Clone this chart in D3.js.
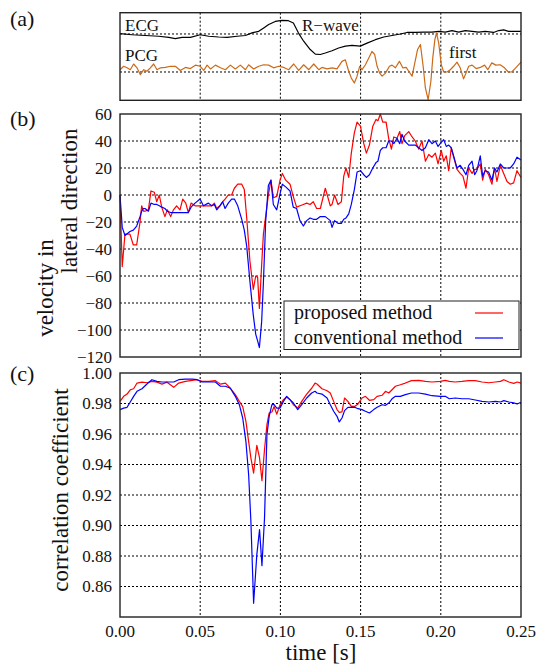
<!DOCTYPE html>
<html>
<head>
<meta charset="utf-8">
<script src="https://cdn.jsdelivr.net/npm/d3@7"></script>
<style>
body { margin: 0; background: #fff; }
svg text { font-family: "Liberation Serif", "DejaVu Serif", serif; fill: #111; }
</style>
</head>
<body>
<svg width="543" height="666"></svg>
<script>

// (a) ECG / PCG traces, arbitrary units around their own baselines
var ecgTime = [0, .0075, .0158, .0241, .0304, .0345, .0387, .0439, .05, .0553,
  .0615, .0667, .073, .0782, .0823, .0865, .0896, .0927, .0968, .101,
  .105, .1081, .1112, .1145, .1186, .1218, .1249, .128, .1322, .1363,
  .1405, .1446, .1498, .154, .1592, .1644, .1696, .1748, .179, .1841,
  .1893, .1945, .1987, .2028, .207, .2111, .2153, .2195, .2236, .2277,
  .2329, .2361, .2392, .2423, .2454, .25];
var ecgValue = [0.01, -0.02, -0.04, -0.06, -0.09, -0.12, -0.09, -0.09, -0.02, -0.06,
  -0.08, -0.09, -0.06, -0.04, 0.03, 0.07, 0.16, 0.25, 0.33, 0.36,
  0.35, 0.29, 0.03, -0.19, -0.41, -0.53, -0.54, -0.5, -0.44, -0.37,
  -0.32, -0.3, -0.32, -0.24, -0.15, -0.08, -0.04, 0, 0.04, 0.04,
  0.05, 0.05, 0.07, 0.05, 0.09, 0.05, 0.09, 0.07, 0.05, 0.07,
  0.04, 0.09, 0.11, 0.07, 0.07, 0.07];

var pcgTime = [0, .0023, .0044, .0064, .0085, .0106, .0127, .0148, .0168, .0189,
  .021, .0231, .0252, .0283, .0314, .0345, .0376, .0408, .0439, .047,
  .05, .0522, .0543, .0564, .0595, .0626, .0657, .0688, .0719, .075,
  .0782, .0802, .0833, .0865, .0896, .0927, .0958, .0989, .1021, .1052,
  .1083, .1114, .1145, .1177, .1208, .1239, .1259, .1291, .1322, .1353,
  .1384, .1405, .1426, .1442, .1461, .1478, .1494, .1509, .153, .1551,
  .1571, .1588, .1603, .1619, .1634, .1655, .168, .1696, .1717, .1742,
  .1763, .1784, .18, .1821, .1838, .1855, .1873, .189, .1904, .1921,
  .1938, .195, .1963, .1973, .1987, .2003, .2018, .2039, .2059, .208,
  .2101, .2121, .2142, .2157, .2174, .2195, .222, .2246, .2273, .2293,
  .2318, .2343, .237, .2397, .2421, .2442, .2467, .25];
var pcgValue = [0.06, 0.15, 0.11, 0.06, 0.21, 0.11, -0.07, 0.06, 0.02, 0.11,
  0.21, 0.06, 0.11, 0.12, 0.15, 0.15, 0.04, 0.12, 0.09, 0.18,
  0.15, 0.04, 0.18, 0.08, 0.18, 0.11, 0.06, 0.18, 0.08, 0.18,
  0.06, 0.19, 0.08, 0.15, 0.19, 0.18, 0.11, 0.15, 0.12, 0.06,
  0.21, 0.04, 0.19, 0.06, 0.21, 0.06, 0.12, 0.08, 0.11, 0.08,
  0.28, 0.32, 0.02, -0.16, -0.29, -0.11, 0.15, 0.06, 0.19, 0.37,
  0.54, 0.46, 0.15, -0.03, -0.11, -0.03, 0.15, 0.18, 0.11, 0.28,
  0.11, 0.12, 0.02, -0.11, 0.24, 0.59, 0.72, 0.15, -0.42, -0.73,
  -0.25, 0.37, 0.85, 1.03, 0.76, 0.19, 0, 0, 0.06, 0.15,
  0.26, 0.11, -0.18, -0.03, 0.15, 0.18, 0.09, 0.12, 0.18, 0.06,
  0.24, 0.18, 0.19, 0.11, 0, 0, 0.11, 0.26];

// (b) velocity in lateral direction
var velTime = [0, .0014, .0031, .0062, .0083, .0104, .0125, .0135, .0146, .0156,
  .0177, .0193, .0214, .0229, .0245, .026, .028, .0295, .0316, .0333,
  .0353, .0374, .0391, .041, .0426, .0443, .0468, .0499, .052, .0551,
  .0572, .0588, .0603, .0623, .064, .0655, .0675, .0696, .0713, .0734,
  .0759, .0775, .079, .081, .0831, .0846, .0858, .0869, .0883, .0894,
  .0908, .0925, .0941, .0956, .0977, .0998, .1012, .1033, .106, .108,
  .1101, .1122, .1143, .1164, .1185, .1205, .1226, .1249, .128, .1311,
  .1322, .1338, .1359, .138, .1395, .1409, .1426, .1442, .1461, .1478,
  .1499, .152, .1536, .1555, .1576, .1596, .1608, .1623, .1638, .1659,
  .1675, .1692, .1707, .1727, .1744, .1758, .1775, .18, .1821, .1841,
  .1862, .1883, .1904, .1925, .1945, .1966, .1983, .2003, .2018, .2034,
  .2049, .2065, .208, .2101, .2121, .2138, .2157, .2174, .2195, .2211,
  .2225, .2246, .2261, .2277, .2298, .2319, .2335, .235, .2371, .2392,
  .2413, .2433, .2454, .2475, .25];
var velProposed = [0, -53, -29, -29, -37, -37, -20, -8, -12, -12,
  -11, 3, 2, -5, 0, -9, -16, -11, -16, -11,
  -8, -11, -3, -6, -13, -6, -8, -8, -8, -8,
  -8, -6, -10, -8, -5, -3, 0, 0, 5, 8,
  8, 4, -17, -49, -70, -60, -61, -84, -52, -29,
  -16, 0, 11, -2, -1, 11, 16, 11, 8, -1,
  -9, -8, -7, -6, -7, -5, -10, -10, 5, -8,
  -7, 0, -7, -5, 14, 20, 13, 31, 46, 54,
  51, 38, 31, 37, 51, 56, 55, 60, 54, 54,
  42, 34, 43, 42, 47, 38, 44, 47, 43, 40,
  34, 40, 25, 30, 28, 31, 23, 33, 25, 29,
  18, 35, 28, 19, 16, 14, 5, 20, 16, 19,
  19, 23, 11, 19, 15, 8, 20, 10, 22, 16,
  10, 8, 9, 18, 13];
var velConventional = [0, -24, -30, -27, -26, -23, -16, -12, -10, -10,
  -12, -6, -7, -7, -8, -9, -10, -12, -13, -13,
  -13, -13, -13, -13, -13, -9, -6, -3, -8, -6,
  -8, -7, -11, -8, -5, -10, -6, -3, -3, -8,
  -18, -26, -38, -64, -89, -103, -108, -113, -94, -65,
  -20, 7, 11, -7, -11, 1, 8, 6, 3, -9,
  -10, -19, -23, -19, -17, -18, -18, -16, -16, -19,
  -24, -19, -21, -21, -18, -17, -14, -7, 4, 17,
  18, 15, 13, 15, 20, 24, 25, 33, 35, 35,
  40, 40, 38, 42, 38, 45, 40, 37, 37, 37,
  35, 33, 35, 41, 38, 40, 36, 39, 41, 36,
  37, 35, 29, 20, 22, 19, 15, 22, 25, 15,
  18, 29, 14, 18, 17, 11, 20, 17, 23, 20,
  20, 20, 23, 28, 26];

// (c) correlation coefficient
var corrTime = [0, .0023, .0044, .0064, .0085, .0106, .0137, .0168, .0199, .023,
  .0262, .0293, .0335, .0366, .0408, .045, .0481, .0512, .0553, .0595,
  .0626, .0657, .0688, .0719, .0744, .0765, .0785, .0802, .0816, .0833,
  .0853, .087, .0885, .0901, .0916, .093, .0947, .0961, .0977, .0998,
  .1019, .1039, .106, .1081, .1108, .1133, .1164, .1195, .1216, .1228,
  .1259, .1291, .1311, .1332, .1353, .1367, .1384, .14, .1421, .1442,
  .1463, .1484, .1509, .153, .1555, .1582, .1603, .1634, .1655, .1676,
  .1696, .1717, .1748, .1779, .1817, .1862, .1904, .1945, .1997, .2028,
  .2053, .209, .2132, .2174, .2215, .2257, .2299, .2341, .2372, .2393,
  .2424, .2455, .2476, .25];
var corrProposed = [.9814, .9847, .9862, .989, .9897, .9934, .994, .9936, .9945, .994,
  .9927, .994, .9906, .9934, .9945, .9952, .9956, .9945, .9945, .995,
  .9927, .9934, .99, .9858, .9814, .978, .9683, .955, .9443, .9344,
  .9526, .9443, .9294, .9498, .9661, .9738, .9744, .978, .973, .9792,
  .9825, .9843, .9825, .9792, .977, .9814, .9862, .99, .9934, .9928,
  .9897, .9884, .9869, .9814, .976, .9742, .9745, .9836, .9814, .9781,
  .9781, .9797, .9836, .9847, .9821, .9825, .9847, .9854, .988, .9869,
  .989, .9913, .9923, .9934, .995, .9952, .9945, .9941, .9945, .9952,
  .9945, .9941, .9945, .995, .995, .9941, .9936, .9941, .9945, .9956,
  .9941, .9932, .9941, .9934];
var corrConventional = [.976, .977, .9775, .981, .9847, .988, .9897, .9928, .9956, .9945,
  .9941, .9941, .9941, .9956, .996, .996, .9956, .9941, .9941, .9941,
  .9913, .9913, .99, .9847, .9792, .9705, .955, .9333, .9028, .849,
  .8809, .8973, .8737, .9049, .9594, .9716, .9792, .9792, .977, .977,
  .9814, .9847, .9825, .9803, .976, .9792, .9836, .9869, .988, .9869,
  .9862, .9836, .9792, .9749, .9716, .9679, .9705, .9753, .9775, .9775,
  .9775, .9766, .976, .9749, .9738, .976, .9775, .9792, .9788, .9803,
  .9831, .9847, .9847, .9858, .9869, .9869, .9862, .9851, .9847, .9847,
  .9831, .9836, .9831, .9831, .9823, .9814, .981, .9814, .981, .9819,
  .981, .9804, .9797, .9808];

var timeTicks = [0, 0.05, 0.10, 0.15, 0.20, 0.25];
var velTicks = [60, 40, 20, 0, -20, -40, -60, -80, -100, -120];
var corrTicks = [1.00, 0.98, 0.96, 0.94, 0.92, 0.90, 0.88, 0.86];
var seriesNames = ["proposed method", "conventional method"];
var seriesColors = ["#ff0000", "#0000ff"];

var svg = d3.select("svg");

var x = d3.scaleLinear().domain([0, 0.25]).range([120, 521]);
var yA = d3.scaleLinear().domain([-0.745, 1.56]).range([100.3, 12.7]);
var yB = d3.scaleLinear().domain([-120, 60]).range([357, 114]);
var yC = d3.scaleLinear().domain([0.84, 1.00]).range([617, 373]);

var ecgBase = 1, pcgBase = 0;

function vGrid(top, bottom) {
  svg.append("g").selectAll("line")
    .data(timeTicks.slice(1, -1))
    .enter().append("line")
      .attr("x1", function(d) { return x(d); })
      .attr("x2", function(d) { return x(d); })
      .attr("y1", top).attr("y2", bottom)
      .attr("stroke", "#000").attr("stroke-width", 1)
      .attr("stroke-dasharray", "2,2");
}
function hGrid(vals, y) {
  svg.append("g").selectAll("line")
    .data(vals)
    .enter().append("line")
      .attr("x1", x.range()[0]).attr("x2", x.range()[1])
      .attr("y1", function(d) { return y(d); })
      .attr("y2", function(d) { return y(d); })
      .attr("stroke", "#000").attr("stroke-width", 1)
      .attr("stroke-dasharray", "2,2");
}
function frame(y) {
  var r = y.range();
  svg.append("rect")
    .attr("x", x.range()[0]).attr("y", r[1])
    .attr("width", x.range()[1] - x.range()[0])
    .attr("height", r[0] - r[1])
    .attr("fill", "none").attr("stroke", "#222").attr("stroke-width", 1.4);
}
function trace(times, vals, y, offset, color) {
  var line = d3.line()
    .x(function(d, i) { return x(times[i]); })
    .y(function(d) { return y(d + offset); });
  svg.append("path")
    .datum(vals)
    .attr("d", line)
    .attr("fill", "none")
    .attr("stroke", color)
    .attr("stroke-width", 1.2)
    .attr("stroke-linejoin", "round");
}
function yLabels(vals, y, fmt) {
  svg.append("g").selectAll("text")
    .data(vals)
    .enter().append("text")
      .attr("x", 112)
      .attr("y", function(d) { return y(d); })
      .attr("dy", "0.35em")
      .attr("text-anchor", "end")
      .attr("font-size", 17)
      .text(fmt);
}

// panel (a)
vGrid(yA.range()[1], yA.range()[0]);
hGrid([ecgBase, pcgBase], yA);
trace(ecgTime, ecgValue, yA, ecgBase, "#000");
trace(pcgTime, pcgValue, yA, pcgBase, "#cc6a17");
frame(yA);
svg.append("text").attr("x", 125).attr("y", 31).attr("font-size", 17).text("ECG");
svg.append("text").attr("x", 125).attr("y", 60.5).attr("font-size", 17).text("PCG");
svg.append("text").attr("x", 302).attr("y", 30.5).attr("font-size", 17).text("R\u2212wave");
svg.append("text").attr("x", 449).attr("y", 58).attr("font-size", 17).text("first");

// panel (b)
vGrid(yB.range()[1], yB.range()[0]);
hGrid(velTicks.slice(1, -1), yB);
trace(velTime, velProposed, yB, 0, seriesColors[0]);
trace(velTime, velConventional, yB, 0, seriesColors[1]);
frame(yB);
yLabels(velTicks, yB, d3.format("d"));

var legend = svg.append("g");
legend.append("rect")
  .attr("x", 284).attr("y", 301).attr("width", 235).attr("height", 48.5)
  .attr("fill", "#fff").attr("stroke", "#222").attr("stroke-width", 1);
seriesNames.forEach(function(name, i) {
  legend.append("text").attr("x", 294).attr("y", 319 + i * 24.5)
    .attr("font-size", 20).text(name);
  legend.append("line")
    .attr("x1", 475).attr("x2", 503)
    .attr("y1", 313 + i * 25).attr("y2", 313 + i * 25)
    .attr("stroke", seriesColors[i]).attr("stroke-width", 1.2);
});

// panel (c)
vGrid(yC.range()[1], yC.range()[0]);
hGrid(corrTicks.slice(1), yC);
trace(corrTime, corrProposed, yC, 0, seriesColors[0]);
trace(corrTime, corrConventional, yC, 0, seriesColors[1]);
frame(yC);
yLabels(corrTicks, yC, d3.format(".2f"));

svg.append("g").selectAll("text")
  .data(timeTicks)
  .enter().append("text")
    .attr("x", function(d) { return x(d); })
    .attr("y", 637)
    .attr("text-anchor", "middle")
    .attr("font-size", 17)
    .text(d3.format(".2f"));

// titles
svg.append("text").attr("x", 321).attr("y", 660).attr("text-anchor", "middle")
  .attr("font-size", 23).text("time [s]");
svg.append("text").attr("transform", "translate(68,490) rotate(-90)")
  .attr("text-anchor", "middle").attr("font-size", 23).text("correlation coefficient");
svg.append("text").attr("transform", "translate(53,288) rotate(-90)")
  .attr("text-anchor", "middle").attr("font-size", 23).text("velocity in");
svg.append("text").attr("transform", "translate(77,201) rotate(-90)")
  .attr("text-anchor", "middle").attr("font-size", 23).text("lateral direction");

svg.append("text").attr("x", 10).attr("y", 26).attr("font-size", 22).text("(a)");
svg.append("text").attr("x", 10).attr("y", 126).attr("font-size", 22).text("(b)");
svg.append("text").attr("x", 10).attr("y", 381).attr("font-size", 22).text("(c)");

</script>
</body>
</html>
